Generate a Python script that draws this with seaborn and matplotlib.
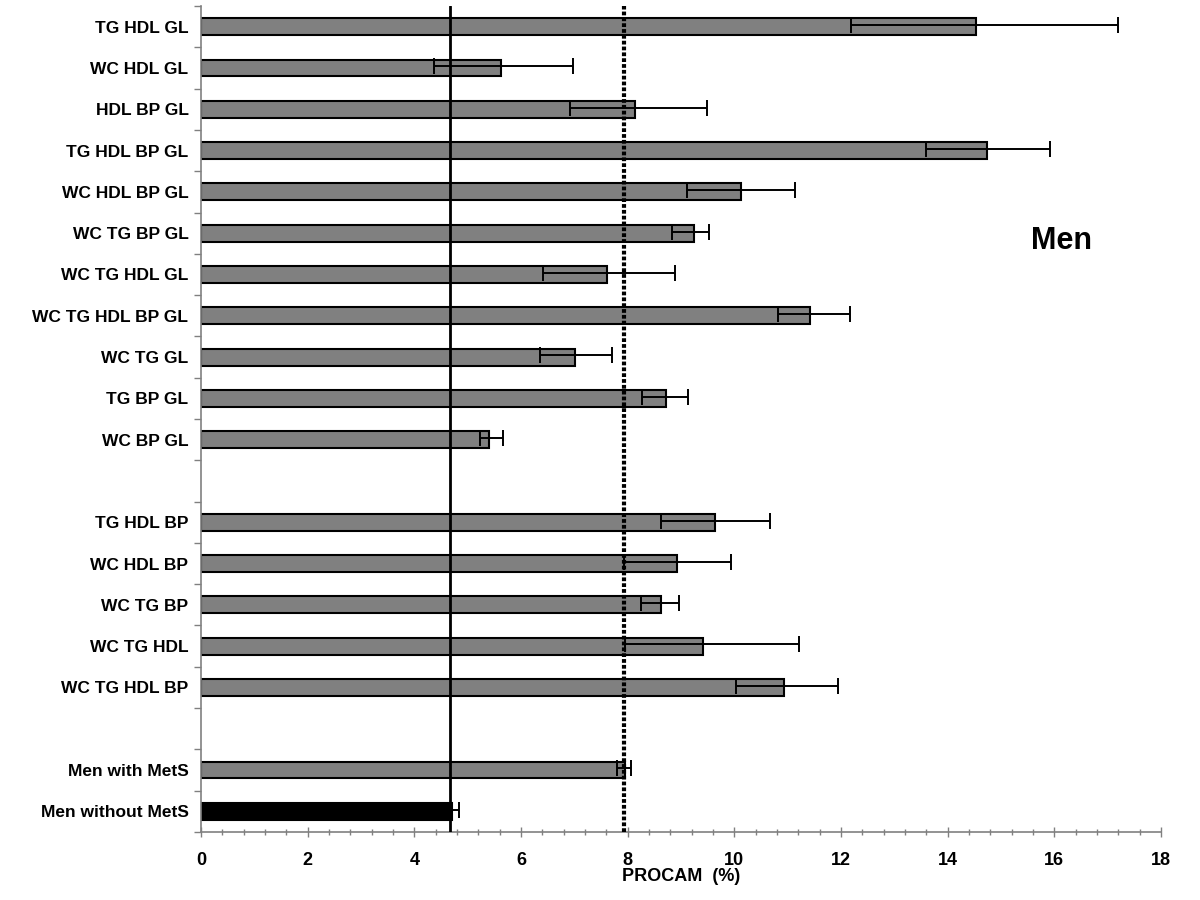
import numpy as np
import pandas as pd
import matplotlib
matplotlib.use("Agg")
import matplotlib.pyplot as plt
import seaborn as sns
from matplotlib.ticker import MultipleLocator, FixedLocator

# ---- data (top to bottom; blank labels are empty slots) ----
categories = ["TG HDL GL", "WC HDL GL", "HDL BP GL", "TG HDL BP GL", "WC HDL BP GL",
              "WC TG BP GL", "WC TG HDL GL", "WC TG HDL BP GL", "WC TG GL", "TG BP GL",
              "WC BP GL", " ", "TG HDL BP", "WC HDL BP", "WC TG BP", "WC TG HDL",
              "WC TG HDL BP", "  ", "Men with MetS", "Men without MetS"]
values = [14.54, 5.62, 8.13, 14.73, 10.12, 9.24, 7.61, 11.42, 7.02, 8.72,
          5.40, np.nan, 9.63, 8.93, 8.63, 9.42, 10.93, np.nan, 7.95, 4.71]
err_low = [12.18, 4.37, 6.91, 13.59, 9.12, 8.84, 6.41, 10.81, 6.36, 8.26,
           5.23, np.nan, 8.63, 7.93, 8.25, 7.95, 10.03, np.nan, 7.80, 4.59]
err_high = [17.20, 6.97, 9.49, 15.91, 11.13, 9.52, 8.88, 12.17, 7.71, 9.14,
            5.67, np.nan, 10.67, 9.94, 8.97, 11.21, 11.95, np.nan, 8.06, 4.83]
groups = ["MetS"] * 19 + ["noMetS"]
ref_without = 4.67
ref_with = 7.93
xticks = [0, 2, 4, 6, 8, 10, 12, 14, 16, 18]

df = pd.DataFrame({"cat": categories, "val": values, "grp": groups})

sns.set_theme(style="white")
plt.rcParams["font.family"] = ["Liberation Sans", "DejaVu Sans"]
plt.rcParams["text.color"] = "black"
plt.rcParams["axes.labelcolor"] = "black"
plt.rcParams["xtick.labelcolor"] = "black"
plt.rcParams["ytick.labelcolor"] = "black"

fig = plt.figure(figsize=(12, 9), dpi=100)
ax = fig.add_axes([0.1675, 0.0756, 0.80, 0.9177])

sns.barplot(data=df, y="cat", x="val", hue="grp", order=categories,
            palette={"MetS": "#808080", "noMetS": "#000000"},
            edgecolor="black", linewidth=1.5, width=0.41, dodge=False,
            legend=False, errorbar=None, ax=ax, zorder=2)

ypos = np.arange(len(categories))
vals = np.array(values)
lo = np.array(err_low)
hi = np.array(err_high)
mask = ~np.isnan(vals)
ax.errorbar(vals[mask], ypos[mask] - 0.04,
            xerr=[vals[mask] - lo[mask], hi[mask] - vals[mask]],
            fmt="none", ecolor="black", elinewidth=1.4, capsize=5.5,
            capthick=1.4, zorder=3)

ax.axvline(ref_without, color="black", lw=2.0, zorder=4)
ax.axvline(ref_with, color="black", lw=3.0, linestyle=(0, (0.9, 0.5)), zorder=4)

ax.set_xlim(0, 18)
ax.set_ylim(len(categories) - 0.5, -0.5)

ax.xaxis.set_major_locator(FixedLocator(xticks))
ax.xaxis.set_minor_locator(MultipleLocator(0.4))
ax.set_xticklabels([str(t) for t in xticks], fontweight="bold", fontsize=13)
ax.tick_params(axis="x", which="major", direction="inout", length=7, width=1,
               color="#808080", bottom=True, pad=11)
ax.tick_params(axis="x", which="minor", direction="inout", length=4, width=1,
               color="#808080", bottom=True)

ax.set_yticks(ypos)
ax.set_yticklabels(categories, fontweight="bold", fontsize=12.5)
ax.yaxis.set_minor_locator(FixedLocator(np.arange(-0.5, len(categories), 1.0)))
ax.tick_params(axis="y", which="major", length=0, pad=9)
ax.tick_params(axis="y", which="minor", direction="out", length=5, width=1,
               color="#808080", left=True)

for s in ["top", "right"]:
    ax.spines[s].set_visible(False)
for s in ["left", "bottom"]:
    ax.spines[s].set_color("#808080")
    ax.spines[s].set_linewidth(1.2)

ax.set_xlabel("PROCAM  (%)", fontweight="bold", fontsize=13, labelpad=-1)
ax.set_ylabel("")

ax.text(16.13, 5.2, "Men", fontsize=22, fontweight="bold", ha="center", va="center",
        color="black")

fig.savefig("out.png", dpi=100)
